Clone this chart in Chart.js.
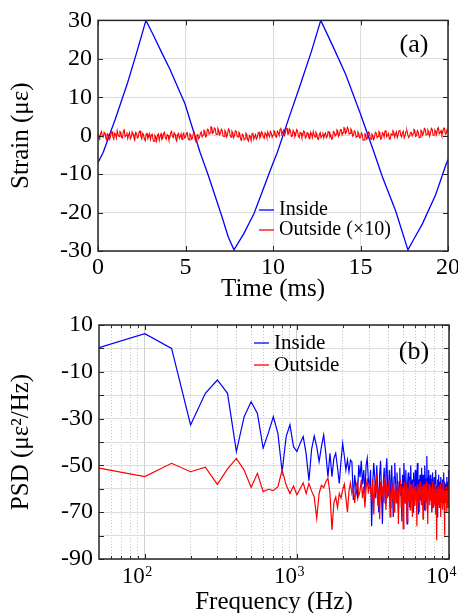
<!DOCTYPE html>
<html>
<head>
<meta charset="utf-8">
<script src="https://cdn.jsdelivr.net/npm/chart.js@4.4.0/dist/chart.umd.min.js"></script>
<style>
  html, body { margin: 0; padding: 0; background: #fff; }
  #wrap { position: relative; width: 458px; height: 613px; overflow: hidden; }
  #top { position: absolute; left: 0; top: 0; }
  #bot { position: absolute; left: 0; top: 302px; }
</style>
</head>
<body>
<div id="wrap">
  <canvas id="top" width="458" height="302"></canvas>
  <canvas id="bot" width="458" height="311"></canvas>
</div>
<script>
const SERIF = '"Liberation Serif", "Times New Roman", serif';

// ---- (a) strain vs time ----
const insideTime = [0, 0.3, 1.0, 1.7, 2.2, 2.74, 3.16, 3.6, 4.11, 4.97, 5.5, 5.83, 6.3, 7.07, 7.45, 7.77,
  8.34, 8.91, 9.39, 9.96, 10.25, 10.9, 11.58, 12.2, 12.73, 13.4, 14.15, 15.01, 15.77, 16.25, 17.01, 17.71,
  18.1, 18.53, 19.3, 19.87, 20];
const insideStrain = [-7, -4.3, 4.5, 13.9, 21.5, 30, 26.2, 22, 17.3, 8.3, 0.5, -4.3, -10.3, -20.9, -26.4, -29.7,
  -25.4, -20.3, -14.5, -7.6, -4.3, 4.5, 13.5, 22, 30, 23.5, 16, 5.5, -4.3, -10.7, -19.6, -29.7,
  -26.5, -23, -15.3, -7.7, -6.2];

// outside sensor (x10), one value every 0.05 ms from 0 to 20 ms
const outsideStrain = [
  0.3, -0.5, -0.8, 0.6, 1.1, -0.2, -0.4, 0.9, 0.6, -0.7, -1.2, 0.5, 0.2, -1.0, -0.5, 0.8, 1.0, -0.3, -0.9, 0.6,
  0.4, -0.6, 1.3, 0.2, -0.2, 1.1, 0.9, -0.5, -0.6, 1.2, 1.5, -0.3, 0.1, 0.9, -0.7, 0.2, 0.8, -0.8, -0.3, 1.0,
  0.5, -0.4, -1.1, 0.9, 0.7, -0.6, -0.4, 1.0, 1.2, -0.2, -0.8, 0.6, 0.3, -0.9, -1.3, 0.4, 0.6, -0.7, -0.2, 0.5,
  -1.0, 0.2, 0.4, -1.1, -1.5, 0.1, -0.3, -1.4, 0.2, 0.5, -1.2, -0.1, 0.5, -1.0, -0.7, 0.6, 0.9, -0.6, -0.9, 0.3,
  0.1, -1.0, -0.6, 0.7, 1.1, -0.2, -0.5, 0.8, 0.4, -0.9, -1.4, 0.2, 0.6, -0.7, -0.3, 0.5, -1.0, 0.3, 0.7, -0.6,
  -0.4, 0.6, 0.8, -0.8, -1.1, 0.5, 0.2, -0.9, -0.6, 0.7, 0.9, -1.0, -1.6, 0.1, 0.3, -0.8, -0.5, 0.6, 1.0, -0.3,
  0.2, 1.4, 1.2, -0.3, -0.1, 1.7, 1.6, 0.4, 0.7, 2.3, 2.2, 0.6, 0.9, 2.0, 1.8, 0.3, 0.4, 1.9, 1.4, 0.2,
  0.6, 1.7, 1.3, -0.1, -0.2, 1.4, 1.0, -0.3, 0.3, 1.8, 1.5, 0.2, -0.4, 1.2, 0.8, -0.5, 0.1, 1.3, 1.1, -0.2,
  -0.3, 0.9, 0.6, -0.9, -1.2, 0.4, 0.2, -1.1, -0.8, 0.7, 0.4, -1.0, -1.4, 0.1, -0.2, -1.3, 0.5, 0.8, -0.9, -0.2,
  0.3, -0.9, -0.5, 0.7, 0.9, -0.6, -0.1, 1.0, 0.6, -0.4, -0.7, 0.8, 0.4, -0.5, 1.0, 0.2, -0.3, 1.1, 0.7, -0.4,
  0.2, 1.3, 1.1, -0.2, -0.4, 1.2, 0.8, 0.0, 1.6, 2.1, 0.3, 0.9, 1.4, 0.1, 0.6, 2.0, 1.9, 0.4, 0.5, 1.7,
  1.2, -0.2, -0.1, 1.4, 0.9, -0.3, 0.3, 1.6, 1.3, -0.1, -0.5, 0.9, 0.7, -0.4, 0.1, 1.2, 1.0, -0.6, -0.3, 0.8,
  0.6, -0.6, -0.8, 0.9, 0.4, -0.5, 1.1, 0.2, -0.4, 0.9, 0.5, -0.8, -1.0, 0.4, 0.8, -0.5, 0.0, 0.9, -0.6, 0.3,
  0.7, -0.5, -0.2, 1.1, 1.0, -0.3, 0.2, -0.9, -0.7, 1.1, 0.9, -0.1, 0.4, 1.5, 1.2, -0.2, 0.3, 1.6, 1.5, 0.2,
  0.8, 2.1, 2.0, 0.6, 1.1, 2.2, 1.7, 0.4, 0.6, 1.8, 1.4, -0.1, 0.2, 1.3, 1.0, -0.4, -0.2, 1.0, 0.6, -0.6,
  -0.5, 0.7, 0.3, -1.2, -1.1, 0.5, 0.4, -0.9, -0.6, 1.0, 0.8, -0.5, -0.9, 0.4, 0.1, -1.0, -0.4, 0.9, 0.7, -0.5,
  -0.2, 1.1, 0.9, -0.9, -0.7, 0.8, 0.5, -0.4, 1.2, 1.4, -0.3, 0.1, 0.6, -0.9, -0.8, 0.5, 0.2, 1.3, 1.0, -0.4,
  0.4, 1.0, -0.5, 0.3, 1.3, 1.5, 0.1, -0.3, 0.8, 1.2, -0.6, 0.0, 1.1, 1.4, 0.3, -0.5, -0.2, 0.8, 0.9, -0.1,
  0.5, 1.6, 1.4, -0.2, 0.0, 1.3, 0.9, -0.5, -0.4, 1.4, 1.2, 0.1, 0.6, 1.9, 1.7, 0.2, 0.3, 1.5, 1.0, -0.1,
  0.7, 1.9, 1.6, 0.1, 0.2, 1.5, 1.1, 0.3, 1.8, 2.1, 0.5, 0.8, 1.3, 0.2, 0.8, 2.0, 1.9, 0.4, 0.6, 1.6,
  1.2];
const outsideTime = outsideStrain.map((_, i) => i / 20);

const timeTicks = [0, 5, 10, 15, 20];
const strainTicks = [-30, -20, -10, 0, 10, 20, 30];

// ---- (b) PSD, 50 Hz bins from 50 Hz to 10 kHz ----
const insidePsd = [
  0.3, 6.3, 0, -32.7, -19.2, -13.5, -19.2, -44.1, -29.2, -22.8,
  -27.8, -42.6, -36, -29.2, -36.3, -52.7, -37.7, -32.7, -42, -44.1,
  -40.6, -37.7, -45, -56.5, -43, -37.5, -42, -48.4, -42, -37,
  -45, -54.8, -44.8, -54.8, -47, -44.8, -51, -57.7, -48, -40.6,
  -46, -52, -47.7, -52.7, -47.7, -48.5, -64.8, -54.1, -60, -63.4,
  -49.8, -55, -48, -58, -52, -62, -50, -47, -56, -60,
  -52, -76, -58, -49, -55, -64, -50, -60, -70, -54,
  -48, -62, -75, -57, -51, -66, -53, -47, -59, -63,
  -52, -68, -56, -50, -61, -72, -55, -49, -58, -65,
  -53, -60, -70, -57, -51, -63, -58, -74, -54, -60,
  -49, -56, -66, -52, -61, -75, -57, -53, -62, -68,
  -55, -50, -59, -64, -56, -70, -53, -60, -67, -52,
  -58, -63, -55, -49, -61, -71, -56, -59, -54, -65,
  -57, -51, -60, -66, -54, -62, -69, -55, -50, -58,
  -63, -56, -46, -60, -68, -55, -52, -61, -65, -57,
  -54, -62, -59, -70, -56, -53, -64, -58, -61, -55,
  -60, -67, -57, -52, -63, -59, -72, -56, -61, -58,
  -54, -65, -60, -57, -62, -68, -55, -59, -64, -58,
  -61, -56, -66, -59, -53, -63, -70, -57, -60, -62,
  -58, -64, -55, -61, -67, -57, -60, -52, -63, -59];
const outsidePsd = [
  -51.2, -54.8, -49.1, -52.7, -50.8, -58.1, -51.5, -47, -52, -59.4,
  -53.4, -61.2, -60.2, -60.8, -59.1, -52, -58.4, -62, -58.8, -62.6,
  -60, -57.5, -62, -57.7, -61, -63.5, -72.6, -62, -58.5, -59.5,
  -57, -55.4, -62, -77.6, -66, -63.5, -68, -62, -64, -60.5,
  -58, -64, -70, -61, -57.5, -62, -60, -66, -59, -57,
  -63, -61, -56, -64, -59, -68, -60, -55.5, -62, -58,
  -60, -65, -56, -71, -58, -62, -54, -67, -60, -73,
  -57, -63, -59, -66, -55, -61, -69, -58, -64, -60,
  -56, -72, -62, -59, -65, -57, -70, -61, -58, -66,
  -63, -58, -75, -60, -62, -56, -68, -64, -59, -77,
  -61, -57, -66, -63, -58, -74, -60, -65, -62, -56,
  -69, -61, -58, -64, -72, -60, -57, -67, -63, -59,
  -65, -61, -76, -58, -62, -66, -60, -70, -57, -63,
  -61, -67, -59, -64, -73, -62, -58, -65, -60, -69,
  -63, -57, -66, -61, -75, -60, -64, -58, -67, -62,
  -59, -65, -61, -70, -63, -57, -68, -62, -60, -66,
  -64, -58, -71, -61, -66, -82, -60, -63, -67, -59,
  -62, -68, -61, -65, -58, -72, -63, -60, -66, -64,
  -61, -69, -57, -65, -62, -67, -80, -60, -64, -63,
  -66, -59, -70, -62, -65, -61, -68, -58, -64, -62];
const freqHz = insidePsd.map((_, i) => 50 * (i + 1));

const freqDecades = [100, 1000, 10000];
const decadeExp = ['2', '3', '4'];
const freqMinor = [60, 70, 80, 90, 200, 300, 400, 500, 600, 700, 800, 900,
  2000, 3000, 4000, 5000, 6000, 7000, 8000, 9000];
const psdTicks = [-90, -80, -70, -60, -50, -40, -30, -20, -10, 0, 10];
const psdLabelled = [-90, -70, -50, -30, -10, 10];

Chart.defaults.font.family = SERIF;
Chart.defaults.color = '#000';

const setTicks = list => scale => { scale.ticks = list.map(v => ({ value: v })); };

// box round the plot with short ticks pointing inward on all four sides
const framePlugin = {
  id: 'frame',
  afterDatasetsDraw(chart, args, o) {
    const { ctx, chartArea: a } = chart;
    ctx.save();
    ctx.strokeStyle = '#262626';
    ctx.lineWidth = 1;
    ctx.beginPath();
    const mark = (scale, len) => {
      scale.ticks.forEach(t => {
        const p = Math.round(scale.getPixelForValue(t.value)) + 0.5;
        if (scale.isHorizontal()) {
          ctx.moveTo(p, a.bottom); ctx.lineTo(p, a.bottom - len);
          ctx.moveTo(p, a.top); ctx.lineTo(p, a.top + len);
        } else {
          ctx.moveTo(a.left, p); ctx.lineTo(a.left + len, p);
          ctx.moveTo(a.right, p); ctx.lineTo(a.right - len, p);
        }
      });
    };
    o.major.forEach(id => mark(chart.scales[id], 5));
    (o.minor || []).forEach(id => mark(chart.scales[id], 3));
    ctx.stroke();
    ctx.lineWidth = 1.5;
    ctx.strokeRect(a.left, a.top, a.right - a.left, a.bottom - a.top);
    ctx.restore();
  }
};

// legend inside the plot plus the panel tag
const innerLegend = {
  id: 'innerLegend',
  afterDraw(chart, args, o) {
    const ctx = chart.ctx;
    ctx.save();
    ctx.font = o.size + 'px ' + SERIF;
    ctx.textBaseline = 'middle';
    ctx.textAlign = 'left';
    chart.data.datasets.forEach((ds, i) => {
      const y = o.y + i * o.dy;
      ctx.strokeStyle = ds.borderColor;
      ctx.lineWidth = 1.3;
      ctx.beginPath();
      ctx.moveTo(o.x, y);
      ctx.lineTo(o.x + o.len, y);
      ctx.stroke();
      ctx.fillStyle = '#000';
      ctx.fillText(ds.label, o.x + o.len + o.gap, y);
    });
    ctx.font = '26px ' + SERIF;
    ctx.textAlign = 'center';
    ctx.fillText(o.tag, o.tagX, o.tagY);
    ctx.restore();
  }
};

// 10^n labels for the log axis
const decadeLabels = {
  id: 'decadeLabels',
  afterDraw(chart, args, o) {
    const ctx = chart.ctx, sc = chart.scales.x;
    ctx.save();
    ctx.fillStyle = '#000';
    ctx.textBaseline = 'alphabetic';
    freqDecades.forEach((v, i) => {
      ctx.font = '14px ' + SERIF;
      const sw = ctx.measureText(decadeExp[i]).width;
      const px = Math.min(sc.getPixelForValue(v), chart.width - 2 - sw);
      ctx.font = '23px ' + SERIF;
      ctx.textAlign = 'right';
      ctx.fillText('10', px, o.base);
      ctx.font = '14px ' + SERIF;
      ctx.textAlign = 'left';
      ctx.fillText(decadeExp[i], px + 0.5, o.base - 7);
    });
    ctx.restore();
  }
};

new Chart(document.getElementById('top'), {
  type: 'line',
  data: {
    datasets: [
      { label: 'Inside', data: insideTime.map((t, i) => ({ x: t, y: insideStrain[i] })),
        borderColor: '#0000ff', borderWidth: 1.3, pointRadius: 0, tension: 0, order: 2 },
      { label: 'Outside (×10)', data: outsideTime.map((t, i) => ({ x: t, y: outsideStrain[i] })),
        borderColor: '#ff0000', borderWidth: 1.1, pointRadius: 0, tension: 0, order: 1 }
    ]
  },
  options: {
    responsive: false,
    animation: false,
    events: [],
    layout: { padding: { left: 0, right: 10, top: 15, bottom: 0 } },
    plugins: {
      legend: { display: false },
      tooltip: { enabled: false },
      frame: { major: ['x', 'y'] },
      innerLegend: { x: 259, len: 15, gap: 5, y: 210, dy: 20, size: 20, tag: '(a)', tagX: 414, tagY: 45 }
    },
    scales: {
      x: {
        type: 'linear', min: 0, max: 20,
        afterBuildTicks: setTicks(timeTicks),
        afterFit: s => { s.height = 51; s.paddingLeft = 0; s.paddingRight = 0; },
        grid: { color: '#dcdcdc', drawTicks: false },
        border: { display: false },
        ticks: { font: { size: 24 }, padding: 2, maxRotation: 0, autoSkip: false },
        title: { display: true, text: 'Time (ms)', font: { size: 25, lineHeight: 1 }, padding: { top: 0, bottom: 0 } }
      },
      y: {
        min: -30, max: 30,
        afterBuildTicks: setTicks(strainTicks),
        afterFit: s => { s.width = 98; },
        grid: { color: '#dcdcdc', drawTicks: false },
        border: { display: false },
        ticks: { font: { size: 24 }, padding: 6, autoSkip: false },
        title: { display: true, text: 'Strain (με)', font: { size: 25, lineHeight: 1 }, padding: { top: 9, bottom: 0 } }
      }
    }
  },
  plugins: [framePlugin, innerLegend]
});

new Chart(document.getElementById('bot'), {
  type: 'line',
  data: {
    datasets: [
      { label: 'Inside', data: freqHz.map((f, i) => ({ x: f, y: insidePsd[i] })),
        borderColor: '#0000ff', borderWidth: 1.2, pointRadius: 0, tension: 0, order: 2 },
      { label: 'Outside', data: freqHz.map((f, i) => ({ x: f, y: outsidePsd[i] })),
        borderColor: '#ff0000', borderWidth: 1.2, pointRadius: 0, tension: 0, order: 1 }
    ]
  },
  options: {
    responsive: false,
    animation: false,
    events: [],
    layout: { padding: { left: 0, right: 9, top: 23, bottom: 0 } },
    plugins: {
      legend: { display: false },
      tooltip: { enabled: false },
      frame: { major: ['x', 'y'], minor: ['xm'] },
      innerLegend: { x: 254, len: 15, gap: 5, y: 41, dy: 22, size: 21, tag: '(b)', tagX: 414, tagY: 50 },
      decadeLabels: { base: 281 }
    },
    scales: {
      x: {
        type: 'logarithmic', min: 50, max: 10000,
        afterBuildTicks: setTicks(freqDecades),
        afterFit: s => { s.height = 54; s.paddingLeft = 0; s.paddingRight = 0; },
        grid: { color: '#cfcfcf', drawTicks: false },
        border: { display: false },
        ticks: { display: false },
        title: { display: true, text: 'Frequency (Hz)', font: { size: 25, lineHeight: 1 }, padding: { top: 0, bottom: -2 } }
      },
      xm: {
        type: 'logarithmic', position: 'bottom', min: 50, max: 10000,
        afterBuildTicks: setTicks(freqMinor),
        afterFit: s => { s.height = 0; s.paddingLeft = 0; s.paddingRight = 0; },
        grid: { color: '#c4c4c4', drawTicks: false },
        border: { display: false, dash: [1, 2] },
        ticks: { display: false }
      },
      y: {
        min: -90, max: 10,
        afterBuildTicks: setTicks(psdTicks),
        afterFit: s => { s.width = 99; },
        grid: { color: '#dcdcdc', drawTicks: false },
        border: { display: false },
        ticks: {
          font: { size: 24 }, padding: 6, autoSkip: false,
          callback: v => psdLabelled.includes(v) ? String(v) : ''
        },
        title: { display: true, text: 'PSD (με²/Hz)', font: { size: 25, lineHeight: 1 }, padding: { top: 9, bottom: 0 } }
      }
    }
  },
  plugins: [framePlugin, innerLegend, decadeLabels]
});
</script>
</body>
</html>
